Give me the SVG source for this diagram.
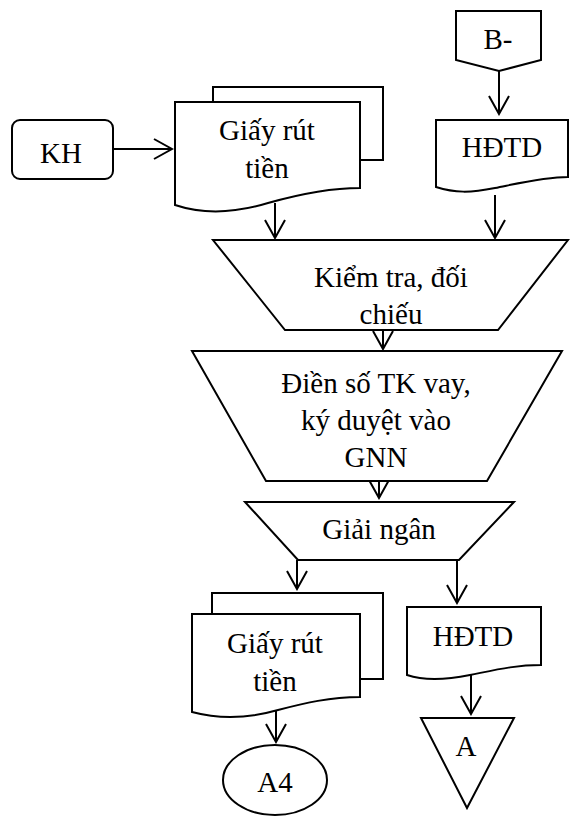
<svg xmlns="http://www.w3.org/2000/svg" width="570" height="818" viewBox="0 0 570 818">
<style>
.s{fill:#fff;stroke:#000;stroke-width:2;stroke-linejoin:miter}
.t{font-family:'Liberation Serif','Times New Roman',serif;font-size:29px;fill:#000;text-anchor:middle}
.c{stroke:#000;stroke-width:2;fill:none;marker-end:url(#ah)}
</style>
<defs>
<marker id="ah" markerUnits="userSpaceOnUse" viewBox="-22 -12 24 24" markerWidth="24" markerHeight="24" refX="0" refY="0" orient="auto">
<path d="M-18,-10 L0,0 L-18,10" fill="none" stroke="#000" stroke-width="2"/>
</marker>
</defs>
<rect width="570" height="818" fill="#fff"/>
<g id="connectors">
<line class="c" x1="113" y1="149" x2="172" y2="149"/>
<line class="c" x1="499" y1="71" x2="499" y2="114"/>
<line class="c" x1="275" y1="203" x2="275" y2="238"/>
<line class="c" x1="495" y1="195" x2="495" y2="238"/>
<line class="c" x1="383" y1="330" x2="383" y2="349"/>
<line class="c" x1="379" y1="481" x2="379" y2="498"/>
<line class="c" x1="297" y1="560" x2="297" y2="589"/>
<line class="c" x1="457" y1="560" x2="457" y2="603"/>
<line class="c" x1="276" y1="698" x2="276" y2="742"/>
<line class="c" x1="471" y1="670" x2="471" y2="714"/>
</g>
<g id="B-">
<polygon class="s" points="456,11 541,11 541,60 499,71 456,60"/>
<text class="t" x="498" y="49">B-</text>
</g>
<g id="KH">
<rect class="s" x="12" y="120" width="101" height="59" rx="8"/>
<text class="t" x="61" y="163">KH</text>
</g>
<g id="giay-rut-tien-1">
<rect class="s" x="213" y="87" width="170" height="73"/>
<path class="s" d="M175,102 H360 V188 C330,188 300,194 268,203 C235,213 205,215 175,205 Z"/>
<text class="t" x="267" y="140">Giấy rút</text>
<text class="t" x="267" y="178">tiền</text>
</g>
<g id="HDTD-1">
<path class="s" d="M436,120 H568 V177 C545,177 520,183 495,188 C470,193 455,193 436,187 Z"/>
<text class="t" x="502" y="157">HĐTD</text>
</g>
<g id="kiem-tra">
<polygon class="s" points="213,240 568,240 498,330 285,330"/>
<text class="t" x="391" y="287">Kiểm tra, đối</text>
<text class="t" x="391" y="324">chiếu</text>
</g>
<g id="dien-so">
<polygon class="s" points="192,351 562,351 487,481 266,481"/>
<text class="t" x="376" y="393">Điền số TK vay,</text>
<text class="t" x="376" y="430">ký duyệt vào</text>
<text class="t" x="376" y="467">GNN</text>
</g>
<g id="giai-ngan">
<polygon class="s" points="245,502 514,502 459,560 298,560"/>
<text class="t" x="379" y="539">Giải ngân</text>
</g>
<g id="giay-rut-tien-2">
<rect class="s" x="212" y="593" width="171" height="86"/>
<path class="s" d="M192,614 H360 V697 C330,697 305,703 278,710 C250,718 222,720 192,712 Z"/>
<text class="t" x="275" y="653">Giấy rút</text>
<text class="t" x="275" y="691">tiền</text>
</g>
<g id="HDTD-2">
<path class="s" d="M407,607 H541 V665 C515,665 495,670 470,675 C445,680 425,681 407,675 Z"/>
<text class="t" x="473" y="646">HĐTD</text>
</g>
<g id="A4">
<ellipse class="s" cx="275" cy="780" rx="52" ry="35"/>
<text class="t" x="275" y="792">A4</text>
</g>
<g id="A">
<polygon class="s" points="421,718 514,718 467,808"/>
<text class="t" x="466" y="756">A</text>
</g>
</svg>
